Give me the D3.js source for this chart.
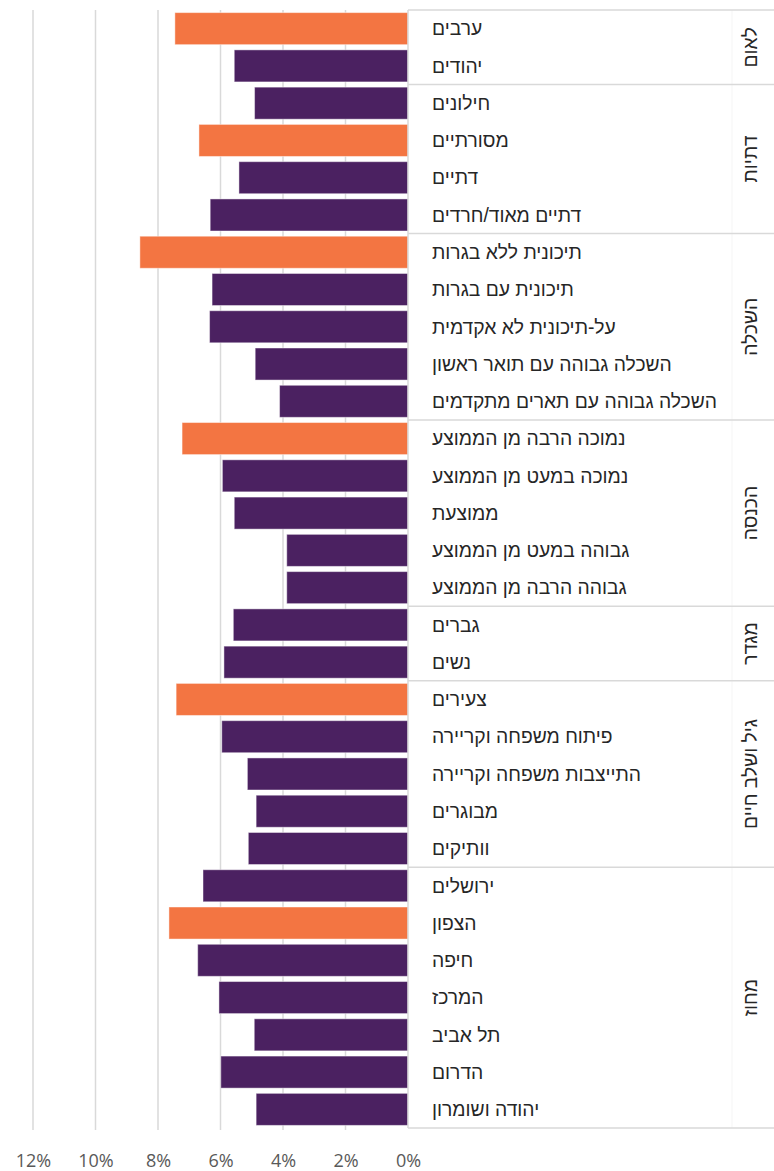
<!DOCTYPE html>
<html>
<head>
<meta charset="utf-8">
<script src="https://cdn.jsdelivr.net/npm/d3@7"></script>
<style>
  body { margin: 0; background: #fff; }
  svg text { font-family: "Liberation Sans", "DejaVu Sans", sans-serif; }
</style>
</head>
<body>
<div id="chart"></div>
<script>
// rows, top to bottom
var categories = [
  "ערבים", "יהודים",
  "חילונים", "מסורתיים", "דתיים", "דתיים מאוד/חרדים",
  "תיכונית ללא בגרות", "תיכונית עם בגרות", "על-תיכונית לא אקדמית", "השכלה גבוהה עם תואר ראשון", "השכלה גבוהה עם תארים מתקדמים",
  "נמוכה הרבה מן הממוצע", "נמוכה במעט מן הממוצע", "ממוצעת", "גבוהה במעט מן הממוצע", "גבוהה הרבה מן הממוצע",
  "גברים", "נשים",
  "צעירים", "פיתוח משפחה וקריירה", "התייצבות משפחה וקריירה", "מבוגרים", "וותיקים",
  "ירושלים", "הצפון", "חיפה", "המרכז", "תל אביב", "הדרום", "יהודה ושומרון"
];

var values = [
  7.46, 5.56,
  4.91, 6.69, 5.41, 6.33,
  8.58, 6.27, 6.35, 4.89, 4.11,
  7.23, 5.94, 5.56, 3.88, 3.88,
  5.59, 5.89,
  7.42, 5.96, 5.14, 4.86, 5.11,
  6.56, 7.65, 6.73, 6.05, 4.92, 5.99, 4.86
];

// highest value in each group
var highlighted = [
  1, 0,
  0, 1, 0, 0,
  1, 0, 0, 0, 0,
  1, 0, 0, 0, 0,
  0, 0,
  1, 0, 0, 0, 0,
  0, 1, 0, 0, 0, 0, 0
];

var groups = ["לאום", "דתיות", "השכלה", "הכנסה", "מגדר", "גיל ושלב חיים", "מחוז"];
var groupSizes = [2, 4, 5, 5, 2, 5, 7];

var ticks = [0, 2, 4, 6, 8, 10, 12];

var width = 774, height = 1171;
var zeroX = 408, plotTop = 10, plotBottom = 1128;

var svg = d3.select("#chart").append("svg")
  .attr("width", width)
  .attr("height", height);

var x = d3.scaleLinear().domain([0, 12]).range([zeroX, 33]);
var y = d3.scaleBand()
  .domain(d3.range(categories.length))
  .range([plotTop, plotBottom])
  .paddingInner(0.14)
  .paddingOuter(0.07);

// grid
svg.append("g").selectAll("line")
  .data(ticks.filter(function(d) { return d > 0; }))
  .enter().append("line")
  .attr("x1", function(d) { return x(d); })
  .attr("x2", function(d) { return x(d); })
  .attr("y1", plotTop)
  .attr("y2", plotBottom + 2)
  .attr("stroke", "#d9d9d9")
  .attr("stroke-width", 1.5);

// tick labels
var axis = d3.axisBottom(x).tickValues(ticks).tickSize(0).tickPadding(0)
  .tickFormat(function(d) { return d + "%"; });
var ax = svg.append("g").attr("transform", "translate(0,1154)").call(axis);
ax.select(".domain").remove();
ax.selectAll("text")
  .attr("font-size", 18)
  .attr("fill", "#595959")
  .style("font-family", "'Open Sans', 'DejaVu Sans', sans-serif");

// bars
svg.append("g").selectAll("rect")
  .data(values)
  .enter().append("rect")
  .attr("x", function(d) { return x(d); })
  .attr("y", function(d, i) { return y(i); })
  .attr("width", function(d) { return zeroX - x(d); })
  .attr("height", y.bandwidth())
  .attr("fill", function(d, i) { return highlighted[i] ? "#f37542" : "#4b2161"; })
  .attr("stroke", "rgba(255,255,255,0.45)")
  .attr("stroke-width", 1);

// category panel frame
var frame = svg.append("g").attr("stroke", "#d9d9d9").attr("stroke-width", 1.5);
frame.append("line").attr("x1", zeroX).attr("x2", zeroX).attr("y1", plotTop).attr("y2", plotBottom);
frame.append("line").attr("x1", 732).attr("x2", 732).attr("y1", plotTop).attr("y2", plotBottom)
  .attr("stroke", "#f8f8f8");

var starts = [0];
groupSizes.forEach(function(n, i) { starts.push(starts[i] + n); });
var step = y.step();
frame.selectAll(".sep")
  .data(starts)
  .enter().append("line")
  .attr("class", "sep")
  .attr("x1", zeroX)
  .attr("x2", width)
  .attr("y1", function(d) { return plotTop + d * step; })
  .attr("y2", function(d) { return plotTop + d * step; });

// category labels
svg.append("g").selectAll("text")
  .data(categories)
  .enter().append("text")
  .attr("x", 432)
  .attr("y", function(d, i) { return y(i) + y.bandwidth() / 2; })
  .attr("dy", "0.35em")
  .attr("direction", "rtl")
  .attr("text-anchor", "end")
  .attr("font-size", 19.3)
  .attr("fill", "#262626")
  .text(function(d) { return d; });

// group labels
svg.append("g").selectAll("text")
  .data(groups)
  .enter().append("text")
  .attr("transform", function(d, i) {
    var cy = plotTop + (starts[i] + groupSizes[i] / 2) * step;
    return "translate(750," + cy + ") rotate(-90)";
  })
  .attr("dy", "0.35em")
  .attr("direction", "rtl")
  .attr("text-anchor", "middle")
  .attr("font-size", 19.3)
  .attr("fill", "#262626")
  .text(function(d) { return d; });
</script>
</body>
</html>
